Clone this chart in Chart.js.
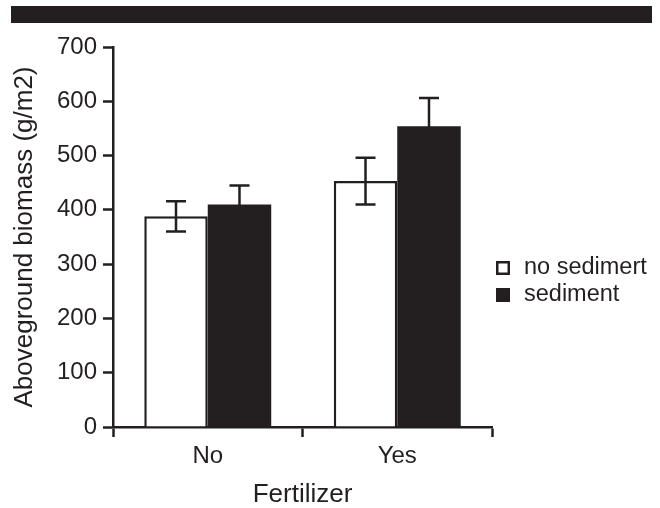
<!DOCTYPE html>
<html>
<head>
<meta charset="utf-8">
<script src="https://cdn.jsdelivr.net/npm/chart.js@4"></script>
<style>
  body{margin:0;background:#fff;}
  #wrap{position:relative;width:660px;height:508px;}
  #band{position:absolute;left:11px;top:6px;width:641px;height:17px;background:#231f20;}
</style>
</head>
<body>
<div id="wrap">
  <canvas id="biomass-chart"></canvas>
  <div id="band"></div>
</div>
<script>
/* data */
var categories = ['No','Yes'];
var seriesNames = ['no sedimert','sediment'];
var noSediment = [388,453];
var noSedimentErr = [28,43];
var sediment = [410,554];
var sedimentErr = [35,52];
var yTicks = [0,100,200,300,400,500,600,700];

var INK = '#231f20';
var FONT = "'Liberation Sans', Arial, Helvetica, sans-serif";

// simple error bars drawn through the y scale
var errorBars = {
  id:'errorBars',
  afterDatasetsDraw:function(chart){
    var ctx = chart.ctx, y = chart.scales.y;
    chart.data.datasets.forEach(function(ds,i){
      var meta = chart.getDatasetMeta(i);
      meta.data.forEach(function(bar,j){
        var v = ds.data[j], e = ds.errors[j];
        var top = y.getPixelForValue(v+e), bot = y.getPixelForValue(v-e);
        ctx.save();
        ctx.strokeStyle = INK;
        ctx.lineWidth = 2.5;
        ctx.beginPath();
        ctx.moveTo(bar.x,top); ctx.lineTo(bar.x,bot);
        ctx.moveTo(bar.x-10,top); ctx.lineTo(bar.x+10,top);
        ctx.moveTo(bar.x-10,bot); ctx.lineTo(bar.x+10,bot);
        ctx.stroke();
        ctx.restore();
      });
    });
  }
};

// legend on the right side, drawn by hand
var sideLegend = {
  id:'sideLegend',
  afterDraw:function(chart){
    var ctx = chart.ctx;
    chart.data.datasets.forEach(function(ds,i){
      var cy = 268 + i*27;
      ctx.save();
      ctx.fillStyle = ds.backgroundColor;
      ctx.fillRect(496,cy-7,14,14);
      ctx.strokeStyle = INK;
      ctx.lineWidth = 2.5;
      ctx.strokeRect(497.25,cy-5.75,11.5,11.5);
      ctx.fillStyle = INK;
      ctx.font = '23.5px '+FONT;
      ctx.textBaseline = 'middle';
      ctx.fillText(ds.label,524,cy);
      ctx.restore();
    });
  }
};

var ctx = document.getElementById('biomass-chart');
new Chart(ctx,{
  type:'bar',
  data:{
    labels:categories,
    datasets:[{
      label:seriesNames[0],
      data:noSediment,
      errors:noSedimentErr,
      backgroundColor:'#ffffff',
      borderColor:INK,
      borderWidth:2.5
    },{
      label:seriesNames[1],
      data:sediment,
      errors:sedimentErr,
      backgroundColor:INK,
      borderWidth:0
    }]
  },
  options:{
    responsive:true,
    maintainAspectRatio:false,
    animation:false,
    layout:{padding:{top:47,right:168,bottom:0,left:0}},
    categoryPercentage:0.67,
    barPercentage:1,
    plugins:{
      legend:{display:false},
      tooltip:{enabled:false}
    },
    scales:{
      x:{
        afterFit:function(s){s.height = 81;},
        border:{color:INK,width:2.5},
        grid:{offset:true,drawOnChartArea:false,drawTicks:true,tickLength:10,tickWidth:2.5,tickColor:INK},
        ticks:{color:INK,font:{family:FONT,size:24},padding:5},
        title:{display:true,text:'Fertilizer',color:INK,font:{family:FONT,size:26,lineHeight:1},padding:{top:0,bottom:0}}
      },
      y:{
        min:yTicks[0],
        max:yTicks[yTicks.length-1],
        afterFit:function(s){s.width = 113;},
        afterBuildTicks:function(s){s.ticks = yTicks.map(function(v){return {value:v};});},
        border:{color:INK,width:2.5},
        grid:{drawOnChartArea:false,drawTicks:true,tickLength:10,tickWidth:2.5,tickColor:INK},
        ticks:{color:INK,font:{family:FONT,size:24},padding:6},
        title:{display:true,text:'Aboveground biomass (g/m2)',color:INK,font:{family:FONT,size:26,lineHeight:1},padding:{top:12,bottom:0}}
      }
    }
  },
  plugins:[errorBars,sideLegend]
});
</script>
</body>
</html>
